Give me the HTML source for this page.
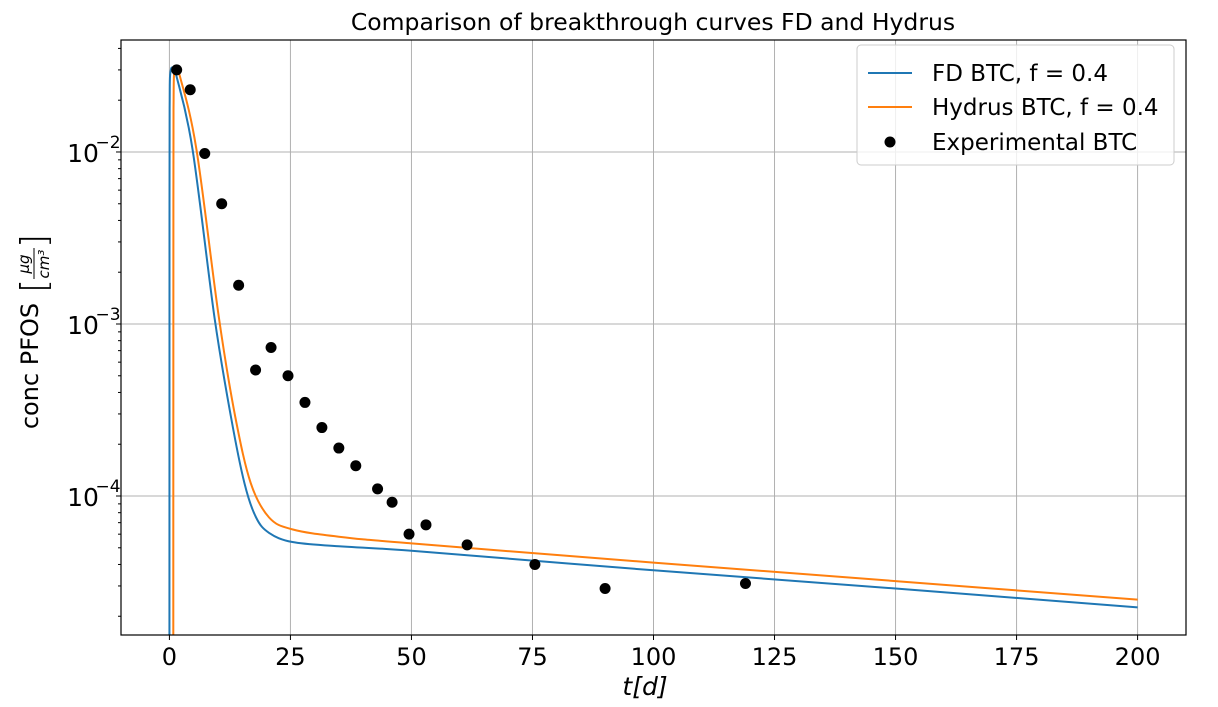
<!DOCTYPE html>
<html><head><meta charset="utf-8"><style>
html,body{margin:0;padding:0;background:#fff;overflow:hidden;width:1218px;height:707px;}
svg{display:block;}
svg text{font-family:"DejaVu Sans","Liberation Sans",sans-serif;fill:#000;}
</style></head><body>
<svg id="chart" width="1218" height="707" xmlns="http://www.w3.org/2000/svg">
<text x="653" y="30" font-size="23.5" text-anchor="middle">Comparison of breakthrough curves FD and Hydrus</text>
<g id="grid"></g>
<clipPath id="clip"><rect x="121" y="40" width="1065" height="595"/></clipPath>
<g id="series" clip-path="url(#clip)"></g>
<rect x="121" y="40" width="1065" height="595" fill="none" stroke="#000" stroke-width="1.2"/>
<g id="axes"></g>
<text x="645" y="695" font-size="25" text-anchor="middle" font-style="italic">t[d]</text>
<g transform="translate(38,338) rotate(-90)">
<text x="-28" y="0" font-size="24" text-anchor="middle">conc PFOS</text>
<text x="74" y="-9" font-size="15" text-anchor="middle" font-style="italic">μg</text>
<line x1="59" y1="-4" x2="90" y2="-4" stroke="#000" stroke-width="1"/>
<text x="74" y="11" font-size="15" text-anchor="middle" font-style="italic">cm³</text>
<text x="52" y="8" font-size="36" text-anchor="middle" font-weight="100">[</text>
<text x="97" y="8" font-size="36" text-anchor="middle" font-weight="100">]</text>
</g>
<g>
<rect x="857" y="45" width="317" height="120" rx="4" fill="#fff" fill-opacity="0.8" stroke="#ccc"/>
<line x1="868" y1="73" x2="912" y2="73" stroke="#1f77b4" stroke-width="2"/>
<text x="932" y="81" font-size="23">FD BTC, f = 0.4</text>
<line x1="868" y1="107" x2="912" y2="107" stroke="#ff7f0e" stroke-width="2"/>
<text x="932" y="115" font-size="23">Hydrus BTC, f = 0.4</text>
<circle cx="890" cy="142" r="5.5" fill="#000"/>
<text x="932" y="150" font-size="23">Experimental BTC</text>
</g>
</svg>
<script>
const xTicks=[0,25,50,75,100,125,150,175,200];
const yDecades=[-2,-3,-4];
const fdT=[0,0.02,0.06,0.15,0.6,1.5,4.8,9.3,12.7,15.5,17.9,20.6,25.4,35,50,100,150,200];
const fdC=[1e-6,0.005,0.02,0.028,0.031,0.0273,0.0103,0.0011,2.9e-4,1.19e-4,7.5e-5,6.1e-5,5.4e-5,5.1e-5,4.8e-5,3.7e-5,2.9e-5,2.25e-5];
const hyT=[0.8,0.82,0.86,0.95,1.2,2.2,5.6,10.2,13.6,16.8,20.6,25.4,35,50,100,150,200];
const hyC=[1e-6,0.005,0.02,0.028,0.031,0.0273,0.0103,0.0011,2.9e-4,1.19e-4,7.5e-5,6.4e-5,5.8e-5,5.3e-5,4.1e-5,3.2e-5,2.5e-5];
const expT=[1.5,4.3,7.3,10.8,14.3,17.8,21,24.5,28,31.5,35,38.5,43,46,49.5,53,61.5,75.5,90,119];
const expC=[0.03,0.023,0.0098,0.005,0.00168,0.00054,0.00073,0.0005,0.00035,0.00025,0.00019,0.00015,0.00011,0.000092,0.00006,0.000068,0.000052,0.00004,0.000029,0.000031];
const NS="http://www.w3.org/2000/svg";
const X0=121,X1=1186,Y0=40,Y1=635;
function sx(t){return X0+(t+10)/220*(X1-X0);}
const LT=-1.349,LB=-4.808;
function sy(c){return Y0+(LT-Math.log10(c))/(LT-LB)*(Y1-Y0);}
function mk(tag,attrs,parent){const e=document.createElementNS(NS,tag);for(const k in attrs)e.setAttribute(k,attrs[k]);parent.appendChild(e);return e;}
const grid=document.getElementById('grid'),axes=document.getElementById('axes'),ser=document.getElementById('series');
xTicks.forEach(t=>{const x=sx(t);
const g=mk('line',{x1:x,x2:x,y1:Y0,y2:Y1,stroke:'#b0b0b0','stroke-width':1},grid);


mk('line',{x1:x,x2:x,y1:Y1,y2:Y1+5,stroke:'#000'},axes);
const tx=mk('text',{x:x,y:Y1+30,'font-size':24,'text-anchor':'middle'},axes);tx.textContent=t;

});
yDecades.forEach(d=>{const y=sy(Math.pow(10,d));
const g=mk('line',{x1:X0,x2:X1,y1:y,y2:y,stroke:'#b0b0b0','stroke-width':1},grid);


mk('line',{x1:X0-5,x2:X0,y1:y,y2:y,stroke:'#000'},axes);
const tx=mk('text',{x:X0-38,y:y+10,'font-size':25,'text-anchor':'middle'},axes);tx.textContent='10';


const ex=mk('text',{x:X0-13,y:y-4,'font-size':17,'text-anchor':'middle'},axes);ex.textContent='\u2212'+(-d);});
for(let d=-5;d<=-1;d++)for(let m=2;m<=9;m++){const c=m*Math.pow(10,d);const y=sy(c);if(y>Y0&&y<Y1)mk('line',{x1:X0-3,x2:X0,y1:y,y2:y,stroke:'#000'},axes);}
function line(T,C,col,name){
const P=T.map((t,i)=>[sx(t),sy(C[i])]);
let d='M'+P[0][0].toFixed(1)+','+P[0][1].toFixed(1);
for(let i=0;i<P.length-1;i++){const p0=P[Math.max(i-1,0)],p1=P[i],p2=P[i+1],p3=P[Math.min(i+2,P.length-1)];
const c1x=p1[0]+(p2[0]-p0[0])/6,c1y=p1[1]+(p2[1]-p0[1])/6,c2x=p2[0]-(p3[0]-p1[0])/6,c2y=p2[1]-(p3[1]-p1[1])/6;
d+=' C'+c1x.toFixed(1)+','+c1y.toFixed(1)+' '+c2x.toFixed(1)+','+c2y.toFixed(1)+' '+p2[0].toFixed(1)+','+p2[1].toFixed(1);}
const e=mk('path',{d:d,fill:'none',stroke:col,'stroke-width':2,'stroke-linejoin':'round'},ser);

}
line(fdT,fdC,'#1f77b4','fd-btc-line');
line(hyT,hyC,'#ff7f0e','hydrus-btc-line');
expT.forEach((t,i)=>{const c=mk('circle',{cx:sx(t),cy:sy(expC[i]),r:5.5,fill:'#000'},ser);

});
</script>
</body></html>
